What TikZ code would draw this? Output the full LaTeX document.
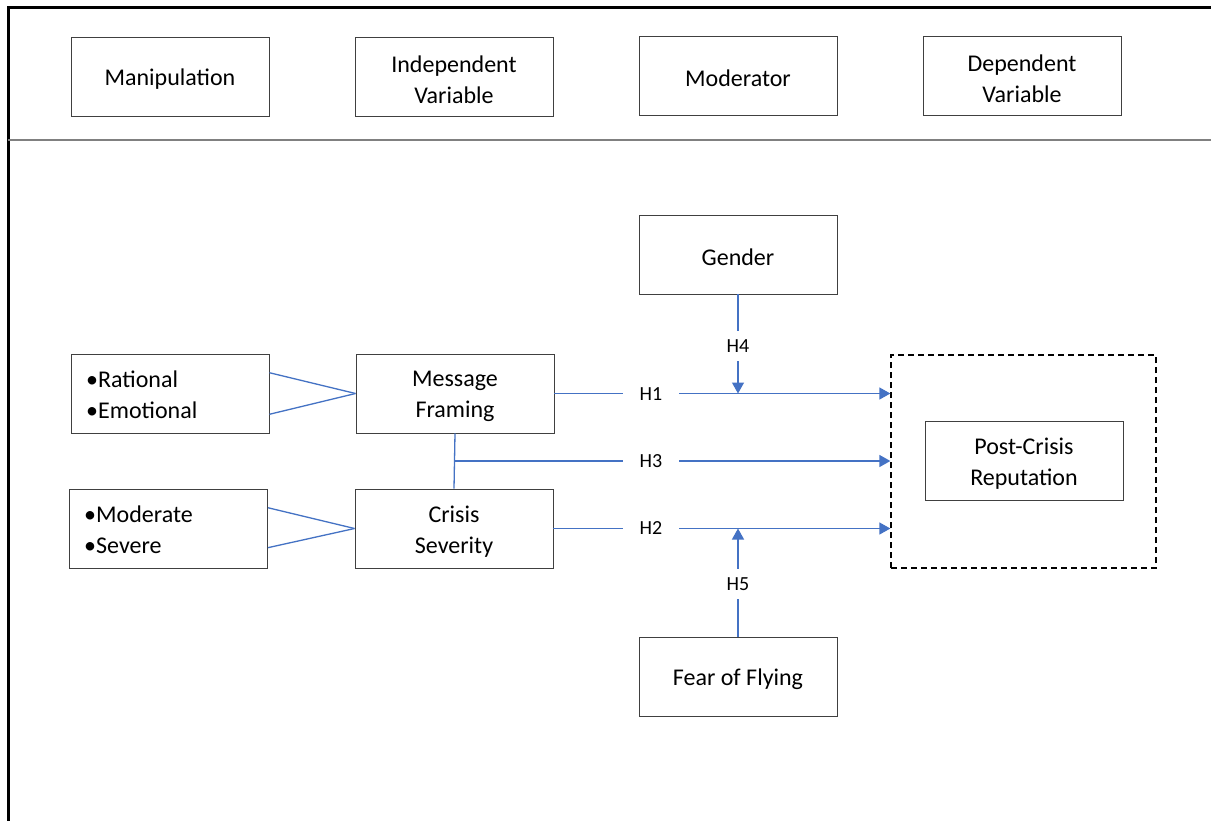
\documentclass[tikz,border=0pt]{standalone}
\usepackage{fontspec}
\setmainfont{Carlito}
\usetikzlibrary{arrows.meta,calc}
\definecolor{lineblue}{HTML}{4472C4}
\definecolor{boxgray}{HTML}{404040}
\begin{document}
\begin{tikzpicture}[x=1pt,y=-1pt,
  box/.style={draw=boxgray, line width=0.9pt, minimum width=198pt, minimum height=79pt, inner sep=0pt,
    label={[txt]center:#1}},
  txt/.style={align=center, inner sep=0pt, yshift=-3pt, font=\fontsize{24}{31}\selectfont},
  plainbox/.style={draw=boxgray, line width=0.9pt, minimum width=198pt, minimum height=79pt, inner sep=0pt},
  bullettext/.style={anchor=west, align=left, inner sep=0pt, yshift=-1.5pt, font=\fontsize{24}{31}\selectfont},
  hlab/.style={fill=white, inner xsep=17pt, inner ysep=2pt, font=\fontsize{20}{22}\selectfont},
  vlab/.style={fill=white, inner xsep=3pt, inner ysep=9pt, font=\fontsize{20}{22}\selectfont},
  conn/.style={draw=lineblue, line width=1.3pt},
  arr/.style={conn, -{Triangle[length=11pt,width=12pt]}}]
\fill[white] (0,0) rectangle (1211,820);
\useasboundingbox (0,0) rectangle (1211,820);
\clip (0,0) rectangle (1211,820);
% frame
\draw[line width=3pt] (8,830) -- (8,7) -- (1225,7);
\draw[gray, line width=2pt] (8,140) -- (1215,140);
% header boxes
\node[box={Manipulation}] (manip) at (170,76.5) {};
\node[box={Independent\\Variable}] (iv) at (454,76.5) {};
\node[box={Moderator}] (mod) at (738,75.5) {};
\node[box={Dependent\\Variable}] (dvh) at (1022,75.5) {};
% body boxes
\node[box={Gender}] (gender) at (738,254.5) {};
\node[box={Fear of Flying}] (fear) at (738,676.5) {};
\node[plainbox] (rat) at (170,393.5) {};
\node[bullettext] (rattxt) at (86,393.5) {•Rational\\•Emotional};
\node[box={Message\\Framing}] (mf) at (455,393.5) {};
\node[plainbox] (sev) at (168.5,528.5) {};
\node[bullettext] (sevtxt) at (84,528.5) {•Moderate\\•Severe};
\node[box={Crisis\\Severity}] (cs) at (454,528.5) {};
\node[draw=black, line width=1.3pt, dash pattern=on 6pt off 4pt, minimum width=265pt, minimum height=213pt, inner sep=0pt] (dv) at (1023.5,461.5) {};
\node[box={Post-Crisis\\Reputation}] (pcr) at (1024,460.5) {};
% connectors left
\draw[conn] ($(rat.north east)!0.24!(rat.south east)$) -- (mf.west);
\draw[conn] ($(rat.north east)!0.76!(rat.south east)$) -- (mf.west);
\draw[conn] ($(sev.north east)!0.24!(sev.south east)$) -- (cs.west);
\draw[conn] ($(sev.north east)!0.74!(sev.south east)$) -- (cs.west);
\draw[conn] (mf.south) -- (cs.north);
\coordinate (j) at (455,461);
% hypotheses
\draw[arr] (mf.east) -- (mf.east -| dv.west);
\draw[arr] (j) -- (j -| dv.west);
\draw[arr] (cs.east) -- (cs.east -| dv.west);
\draw[arr] (gender.south) -- (gender.south |- mf.east);
\draw[arr] (fear.north) -- (fear.north |- cs.east);
\node[hlab] (h1) at (651,394) {H1};
\node[hlab] (h3) at (651,461) {H3};
\node[hlab] (h2) at (651,528) {H2};
\node[vlab] (h4) at (738,346) {H4};
\node[vlab] (h5) at (738,584) {H5};
\end{tikzpicture}
\end{document}
